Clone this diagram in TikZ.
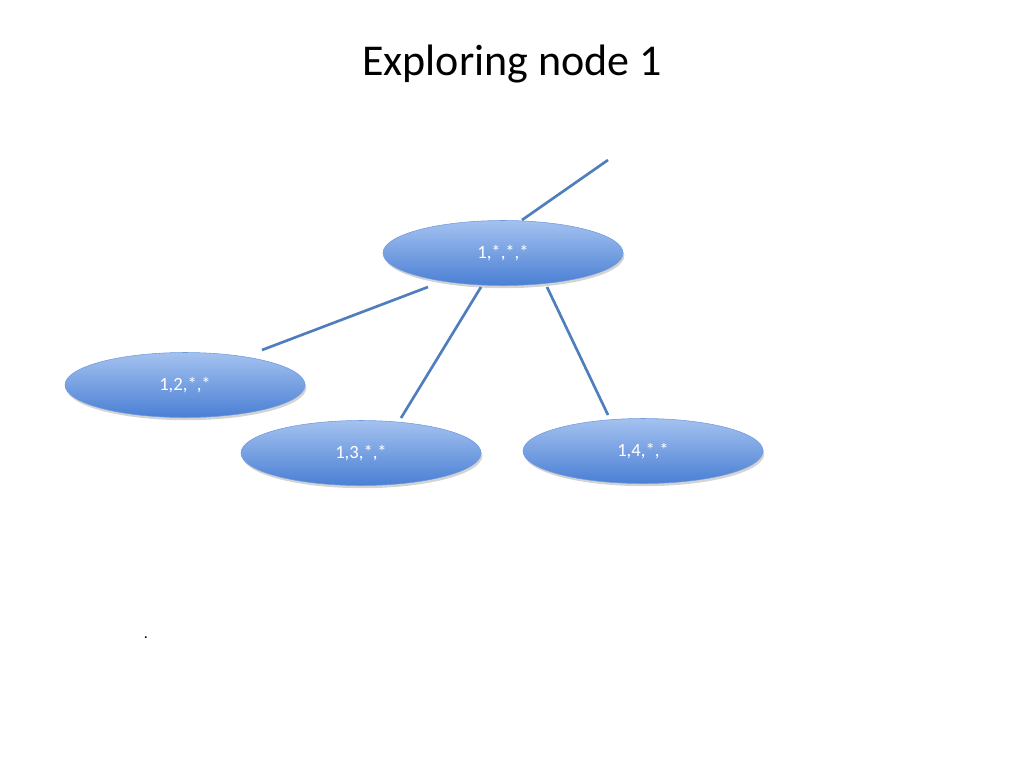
\documentclass[tikz,border=0pt]{standalone}
\usepackage{fontspec}
\setmainfont{Carlito}
\usetikzlibrary{shapes.geometric,shadows}
\definecolor{btop}{HTML}{A4C2F0}
\definecolor{bbot}{HTML}{4A7FD4}
\definecolor{edge}{HTML}{4F7EBC}
\begin{document}
\begin{tikzpicture}[x=0.75pt,y=-0.75pt,
  st/.style={ellipse,minimum width=240*0.75pt,minimum height=65*0.75pt,inner sep=0pt,
    top color=btop,bottom color=bbot,draw=bbot!80!white,line width=0.4pt,
    drop shadow={shadow xshift=1pt,shadow yshift=-2pt,opacity=0.35},
    text=white,font=\fontsize{14}{16}\selectfont},
  ln/.style={draw=edge,line width=2pt}]
\useasboundingbox (0,0) rectangle (1024,768);
\node[font=\fontsize{33}{38}\selectfont] (title) at (512,64) {Exploring node 1};
\node[st] (n1) at (503,253) {1,*,*,*};
\node[st] (n2) at (185,385) {1,2,*,*};
\node[st] (n3) at (361,453) {1,3,*,*};
\node[st] (n4) at (643,451) {1,4,*,*};
\coordinate (p0) at (608,160); \coordinate (p1) at (522,220);
\coordinate (a1) at (428,287); \coordinate (a2) at (262,350);
\coordinate (b1) at (481,287); \coordinate (b2) at (401,418);
\coordinate (c1) at (547,287); \coordinate (c2) at (608,415);
\draw[ln] (p0) -- (p1);
\draw[ln] (a1) -- (a2);
\draw[ln] (b1) -- (b2);
\draw[ln] (c1) -- (c2);
\node[font=\fontsize{12}{14}\selectfont] (dot) at (146,638) {.};
\end{tikzpicture}
\end{document}
